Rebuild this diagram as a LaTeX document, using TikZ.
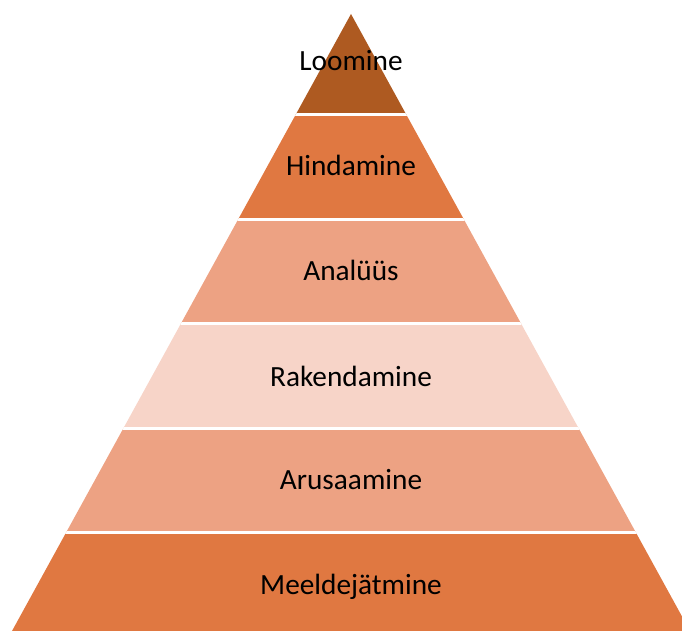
\documentclass[tikz,border=0pt]{standalone}
\usepackage{fontspec}
\setmainfont{Carlito}
\definecolor{tierdark}{HTML}{AE5A21}
\definecolor{tiermid}{HTML}{E07841}
\definecolor{tierlight}{HTML}{EDA283}
\definecolor{tierpale}{HTML}{F7D4C8}
\begin{document}
\begin{tikzpicture}[x=1pt,y=1pt,
  lbl/.style={anchor=base,inner sep=0pt,font=\fontsize{29.3}{35}\selectfont,text=black},
  gap/.style={draw=white,line width=3pt}]
\useasboundingbox (0,0) rectangle (682,631);
% apex at (351,617), base at y=0 from x=12 to x=690
\begin{scope}
\clip (12,0) -- (690,0) -- (351,617) -- cycle;
\fill[tiermid]   (0,0) rectangle (700,97);
\fill[tierlight] (0,97) rectangle (700,202);
\fill[tierpale]  (0,202) rectangle (700,306);
\fill[tierlight] (0,306) rectangle (700,411);
\fill[tiermid]   (0,411) rectangle (700,516);
\fill[tierdark]  (0,516) rectangle (700,620);
\draw[gap] (0,98) -- (700,98);
\draw[gap] (0,202.5) -- (700,202.5);
\draw[gap] (0,307) -- (700,307);
\draw[gap] (0,411.5) -- (700,411.5);
\draw[gap] (0,516) -- (700,516);
\end{scope}
\node[lbl] (t1) at (351,36) {Meeldejätmine};
\node[lbl] (t2) at (351,141) {Arusaamine};
\node[lbl] (t3) at (351,244) {Rakendamine};
\node[lbl] (t4) at (351,350) {Analüüs};
\node[lbl] (t5) at (351,455) {Hindamine};
\node[lbl] (t6) at (351,560) {Loomine};
\end{tikzpicture}
\end{document}
